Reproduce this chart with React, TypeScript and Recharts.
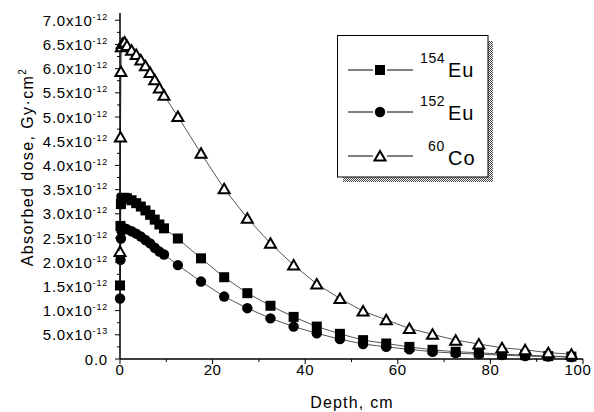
import { Line, LineChart, XAxis, YAxis } from "recharts";

// depth in cm, dose in units of 1e-12 Gy·cm²
const depth = [
	0, 0.1, 0.2, 0.3, 0.5, 1, 1.5, 2.5, 3.5, 4.5, 5.5, 6.5, 7.5, 8.5, 9.5, 12.5, 17.5, 22.5, 27.5,
	32.5, 37.5, 42.5, 47.5, 52.5, 57.5, 62.5, 67.5, 72.5, 77.5, 82.5, 87.5, 92.5, 97.5,
];
const eu154 = [
	1.52, 2.75, 3.2, 3.3, 3.33, 3.33, 3.32, 3.28, 3.22, 3.15, 3.07, 2.98, 2.88, 2.78, 2.7, 2.49, 2.08,
	1.69, 1.36, 1.1, 0.87, 0.67, 0.52, 0.39, 0.32, 0.25, 0.19, 0.15, 0.13, 0.1, 0.08, 0.06, 0.05,
];
const eu152 = [
	1.25, 2.05, 2.49, 2.65, 2.7, 2.7, 2.68, 2.64, 2.59, 2.53, 2.46, 2.39, 2.3, 2.22, 2.16, 1.94, 1.6,
	1.29, 1.05, 0.84, 0.67, 0.53, 0.41, 0.31, 0.25, 0.2, 0.15, 0.12, 0.1, 0.08, 0.06, 0.05, 0.04,
];
const co60 = [
	2.22, 4.59, 5.94, 6.45, 6.52, 6.55, 6.48, 6.38, 6.29, 6.18, 6.06, 5.92, 5.77, 5.6, 5.45, 5.01, 4.25,
	3.52, 2.91, 2.39, 1.94, 1.55, 1.25, 0.99, 0.81, 0.63, 0.51, 0.39, 0.31, 0.23, 0.19, 0.13, 0.1,
];
const xTicks = [0, 20, 40, 60, 80, 100];
const yTicks = [0, 0.5, 1, 1.5, 2, 2.5, 3, 3.5, 4, 4.5, 5, 5.5, 6, 6.5, 7];

const data = depth.map((d, i) => ({ depth: d, eu154: eu154[i], eu152: eu152[i], co60: co60[i] }));

const W = 594;
const H = 412;
const M = { top: 13, right: 11, bottom: 23, left: 0 };
const Y_AXIS_W = 120;
const X_AXIS_H = 30;
const Y_MAX = 7.15;
const plotW = W - M.left - M.right - Y_AXIS_W;
const plotH = H - M.top - M.bottom - X_AXIS_H;
const FONT = "'Liberation Sans', Arial, sans-serif";

function Square(props: any) {
	const { cx, cy } = props;
	if (cx == null || cy == null) return null;
	return <rect x={cx - 5} y={cy - 5} width={10} height={10} fill="#000" />;
}

function Dot(props: any) {
	const { cx, cy } = props;
	if (cx == null || cy == null) return null;
	return <circle cx={cx} cy={cy} r={5.2} fill="#000" />;
}

function Tri(props: any) {
	const { cx, cy } = props;
	if (cx == null || cy == null) return null;
	return (
		<polygon
			points={`${cx},${cy - 5} ${cx - 5.5},${cy + 4.5} ${cx + 5.5},${cy + 4.5}`}
			fill="#fff"
			stroke="#000"
			strokeWidth={2}
		/>
	);
}

function YTick(props: any) {
	const { x, y, payload } = props;
	const v = payload.value as number;
	const axisX = x + 5 + 2;
	const half = (0.25 / Y_MAX) * plotH;
	let mant = "0.0";
	let exp = "";
	if (v > 0 && v < 1) {
		mant = (v * 10).toFixed(1) + "x10";
		exp = "-13";
	} else if (v >= 1) {
		mant = v.toFixed(1) + "x10";
		exp = "-12";
	}
	return (
		<g>
			{v > 0 && <line x1={axisX - 3} x2={axisX} y1={y + half} y2={y + half} stroke="#000" />}
			<text x={x - 5} y={y + 5.5} textAnchor="end" fontSize={15} fill="#000" fontFamily={FONT} letterSpacing={0.8}>
				{mant}
				{exp && (
					<tspan dy={-6} fontSize={9}>
						{exp}
					</tspan>
				)}
			</text>
		</g>
	);
}

function XTick(props: any) {
	const { x, y, payload } = props;
	const v = payload.value as number;
	const axisY = y - 5 - 2;
	const step = (10 / 100) * plotW;
	// the last label sits at the page edge; nudge it so it stays inside
	const tx = v === 100 ? x - 4 : x;
	return (
		<g>
			{v < 100 && <line x1={x + step} x2={x + step} y1={axisY} y2={axisY + 3} stroke="#000" />}
			<text x={tx} y={y + 9} textAnchor="middle" fontSize={15} fill="#000" fontFamily={FONT} letterSpacing={0.6}>
				{v}
			</text>
		</g>
	);
}

function Legend() {
	const rows = [
		{ y: 70, base: 77, sup: "154", name: "Eu", marker: "sq" },
		{ y: 112, base: 120, sup: "152", name: "Eu", marker: "ci" },
		{ y: 156, base: 165, sup: "60", name: "Co", marker: "tr" },
	];
	return (
		<svg width={W} height={H} style={{ position: "absolute", left: 0, top: 0, pointerEvents: "none" }}>
			<defs>
				<pattern id="dither" width={2} height={2} patternUnits="userSpaceOnUse">
					<rect width={2} height={2} fill="#fff" />
					<rect width={1} height={1} fill="#444" />
					<rect x={1} y={1} width={1} height={1} fill="#444" />
				</pattern>
			</defs>
			<rect x={343} y={41} width={150} height={141} fill="url(#dither)" />
			<rect x={337.5} y={35.5} width={150.5} height={141.5} fill="#fff" stroke="#000" />
			{rows.map((r) => (
				<g key={r.sup}>
					<line x1={348} x2={373} y1={r.y} y2={r.y} stroke="#000" />
					<line x1={387} x2={413} y1={r.y} y2={r.y} stroke="#000" />
					{r.marker === "sq" && <Square cx={380} cy={r.y} />}
					{r.marker === "ci" && <Dot cx={380} cy={r.y} />}
					{r.marker === "tr" && <Tri cx={380} cy={r.y} />}
					<text
						x={r.sup === "60" ? 428 : 420}
						y={r.base - 14}
						fontSize={14}
						fontFamily={FONT}
						letterSpacing={0.6}
						fill="#000"
					>
						{r.sup}
					</text>
					<text x={448} y={r.base} fontSize={20} fontFamily={FONT} letterSpacing={1} fill="#000">
						{r.name}
					</text>
				</g>
			))}
		</svg>
	);
}

export default function App() {
	return (
		<div style={{ position: "absolute", left: 0, top: 0, width: W, height: H, background: "#fff" }}>
			<LineChart width={W} height={H} data={data} margin={M}>
				<XAxis
					dataKey="depth"
					type="number"
					domain={[0, 100]}
					ticks={xTicks}
					height={X_AXIS_H}
					tickSize={5}
					tickMargin={2}
					tick={<XTick />}
					axisLine={{ stroke: "#000", strokeWidth: 1.5 }}
					tickLine={{ stroke: "#000" }}
					label={{
						value: "Depth, cm",
						position: "insideBottom",
						content: () => (
							<text x={352} y={408} textAnchor="middle" fontSize={16} fontFamily={FONT} letterSpacing={1.2} fill="#000">
								Depth, cm
							</text>
						),
					}}
				/>
				<YAxis
					type="number"
					domain={[0, Y_MAX]}
					ticks={yTicks}
					width={Y_AXIS_W}
					tickSize={5}
					tickMargin={2}
					tick={<YTick />}
					axisLine={{ stroke: "#000", strokeWidth: 1.5 }}
					tickLine={{ stroke: "#000" }}
					label={{
						value: "Absorbed dose, Gy·cm2",
						content: () => (
							<text
								x={33}
								y={167}
								transform="rotate(-90 33 167)"
								textAnchor="middle"
								fontSize={16}
								fontFamily={FONT}
								letterSpacing={1.4}
								fill="#000"
							>
								Absorbed dose, Gy·cm
								<tspan dy={-7} fontSize={10}>
									2
								</tspan>
							</text>
						),
					}}
				/>
				<Line dataKey="eu154" stroke="#555" strokeWidth={1} dot={<Square />} activeDot={false} isAnimationActive={false} />
				<Line dataKey="eu152" stroke="#555" strokeWidth={1} dot={<Dot />} activeDot={false} isAnimationActive={false} />
				<Line dataKey="co60" stroke="#555" strokeWidth={1} dot={<Tri />} activeDot={false} isAnimationActive={false} />
			</LineChart>
			<Legend />
		</div>
	);
}
